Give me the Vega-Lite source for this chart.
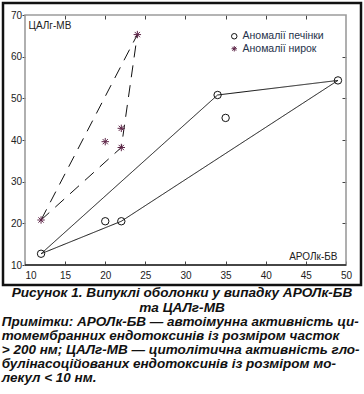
{
  "$schema": "https://vega.github.io/schema/vega-lite/v6.json",
  "background": "white",
  "padding": {"left": 1, "top": 1, "right": 2, "bottom": 2},
  "datasets": {
    "points": [
      {"x": 12, "y": 12.7, "g": "Аномалії печінки"},
      {"x": 20, "y": 20.5, "g": "Аномалії печінки"},
      {"x": 22, "y": 20.5, "g": "Аномалії печінки"},
      {"x": 34, "y": 50.8, "g": "Аномалії печінки"},
      {"x": 35, "y": 45.3, "g": "Аномалії печінки"},
      {"x": 49, "y": 54.3, "g": "Аномалії печінки"},
      {"x": 12, "y": 20.8, "g": "Аномалії нирок"},
      {"x": 20, "y": 39.6, "g": "Аномалії нирок"},
      {"x": 22, "y": 38.2, "g": "Аномалії нирок"},
      {"x": 22, "y": 42.8, "g": "Аномалії нирок"},
      {"x": 24, "y": 65.3, "g": "Аномалії нирок"}
    ],
    "hulls": [
      {"h": "печінка", "o": 1, "x": 12, "y": 12.7},
      {"h": "печінка", "o": 2, "x": 34, "y": 50.8},
      {"h": "печінка", "o": 3, "x": 49, "y": 54.3},
      {"h": "печінка", "o": 4, "x": 22, "y": 20.5},
      {"h": "печінка", "o": 5, "x": 12, "y": 12.7},
      {"h": "нирки", "o": 1, "x": 12, "y": 20.8},
      {"h": "нирки", "o": 2, "x": 24, "y": 65.3},
      {"h": "нирки", "o": 3, "x": 22, "y": 38.2},
      {"h": "нирки", "o": 4, "x": 12, "y": 20.8}
    ]
  },
  "title": {
    "text": [
      "Примітки: АРОЛк-БВ — автоімунна активність ци-",
      "томембранних ендотоксинів із розміром часток",
      "> 200 нм; ЦАЛг-МВ — цитолітична активність гло-",
      "булінасоційованих ендотоксинів із розміром мо-",
      "лекул < 10 нм."
    ],
    "orient": "bottom",
    "anchor": "start",
    "font": "Liberation Sans",
    "fontSize": 13.5,
    "fontStyle": "italic",
    "fontWeight": "bold",
    "lineHeight": 14,
    "color": "#111",
    "offset": 0
  },
  "vconcat": [
    {
      "width": 358,
      "height": 282,
      "title": {
        "text": ["Рисунок 1. Випуклі оболонки у випадку АРОЛк-БВ", "та ЦАЛг-МВ"],
        "orient": "bottom",
        "anchor": "middle",
        "font": "Liberation Sans",
        "fontSize": 13.6,
        "fontStyle": "italic",
        "fontWeight": "bold",
        "lineHeight": 14.5,
        "color": "#111",
        "offset": 1
      },
      "resolve": {"axis": {"x": "independent", "y": "independent"}},
      "layer": [
        {
          "data": {"values": [{}]},
          "mark": {"type": "rect", "fill": "white", "fillOpacity": 0, "stroke": "#9c9c9c", "strokeWidth": 1.6},
          "encoding": {
            "x": {
              "datum": 10, "type": "quantitative",
              "scale": {"domain": [7.259, 51.869], "nice": false, "zero": false},
              "axis": {
                "orient": "bottom", "offset": -20,
                "values": [10, 15, 20, 25, 30, 35, 40, 45, 50],
                "domain": false, "grid": false,
                "tickSize": -4, "tickColor": "#444", "tickWidth": 1,
                "labelPadding": 9, "labelFont": "Liberation Sans", "labelFontSize": 10, "labelColor": "#222",
                "labelAlign": {"condition": {"test": "datum.value == 10", "value": "left"}, "value": "center"},
                "labelFlush": false, "labelOverlap": false,
                "title": "АРОЛк-БВ", "titleFont": "Liberation Sans", "titleFontSize": 10, "titleFontWeight": "normal",
                "titleColor": "#222", "titleAlign": "right", "titleBaseline": "alphabetic", "titleX": 334, "titleY": -6
              }
            },
            "x2": {"datum": 50},
            "y": {
              "datum": 10, "type": "quantitative",
              "scale": {"domain": [5.2, 72.88], "nice": false, "zero": false},
              "axis": {
                "orient": "left", "offset": -22,
                "values": [10, 20, 30, 40, 50, 60, 70],
                "domain": false, "grid": false,
                "tickSize": 3, "tickColor": "#444", "tickWidth": 1,
                "labelPadding": 0.5, "labelFont": "Liberation Sans", "labelFontSize": 10, "labelColor": "#222",
                "labelFlush": false, "labelOverlap": false,
                "title": "ЦАЛг-МВ", "titleFont": "Liberation Sans", "titleFontSize": 10, "titleFontWeight": "normal",
                "titleColor": "#222", "titleAngle": 0, "titleAlign": "left", "titleBaseline": "alphabetic", "titleX": 3, "titleY": 25
              }
            },
            "y2": {"datum": 70}
          }
        },
        {
          "data": {"values": [{}]},
          "mark": {"type": "rule", "stroke": "#222", "strokeWidth": 1.6},
          "encoding": {
            "x": {
              "datum": 10, "type": "quantitative",
              "scale": {"domain": [7.259, 51.869], "nice": false, "zero": false},
              "axis": {
                "orient": "top", "offset": -12,
                "values": [15, 20, 25, 30, 35, 40, 45],
                "domain": false, "grid": false, "labels": false, "title": null,
                "tickSize": -4, "tickColor": "#444", "tickWidth": 1
              }
            },
            "x2": {"datum": 50},
            "y": {
              "datum": 10, "type": "quantitative",
              "scale": {"domain": [5.2, 72.88], "nice": false, "zero": false},
              "axis": {
                "orient": "right", "offset": -15,
                "values": [20, 30, 40, 50, 60],
                "domain": false, "grid": false, "labels": false, "title": null,
                "tickSize": -4, "tickColor": "#444", "tickWidth": 1
              }
            }
          }
        },
        {
          "data": {"name": "hulls"},
          "mark": {"type": "line", "stroke": "#111", "strokeWidth": 1},
          "encoding": {
            "x": {"field": "x", "type": "quantitative", "scale": {"domain": [7.259, 51.869], "nice": false, "zero": false}, "axis": null},
            "y": {"field": "y", "type": "quantitative", "scale": {"domain": [5.2, 72.88], "nice": false, "zero": false}, "axis": null},
            "order": {"field": "o", "type": "quantitative"},
            "strokeDash": {
              "field": "h", "type": "nominal",
              "scale": {"domain": ["печінка", "нирки"], "range": [[1, 0], [12, 8]]},
              "legend": null
            }
          }
        },
        {
          "data": {"name": "points"},
          "mark": {"type": "point", "filled": false, "strokeWidth": 1, "size": 55, "opacity": 1},
          "encoding": {
            "x": {"field": "x", "type": "quantitative", "scale": {"domain": [7.259, 51.869], "nice": false, "zero": false}, "axis": null},
            "y": {"field": "y", "type": "quantitative", "scale": {"domain": [5.2, 72.88], "nice": false, "zero": false}, "axis": null},
            "shape": {
              "field": "g", "type": "nominal",
              "scale": {
                "domain": ["Аномалії печінки", "Аномалії нирок"],
                "range": ["circle", "M0,-1L0,1M-1,0L1,0M-0.71,-0.71L0.71,0.71M-0.71,0.71L0.71,-0.71"]
              },
              "legend": {
                "title": null, "orient": "none", "legendX": 226, "legendY": 28, "padding": 0,
                "labelFont": "Liberation Sans", "labelFontSize": 10.5, "labelColor": "#26324a",
                "symbolSize": 30, "symbolStrokeWidth": 1, "labelOffset": 3, "rowPadding": 1.5
              }
            },
            "stroke": {
              "field": "g", "type": "nominal",
              "scale": {"domain": ["Аномалії печінки", "Аномалії нирок"], "range": ["#111111", "#5e2648"]},
              "legend": {
                "title": null, "orient": "none", "legendX": 226, "legendY": 28, "padding": 0,
                "labelFont": "Liberation Sans", "labelFontSize": 10.5, "labelColor": "#26324a",
                "symbolSize": 30, "symbolStrokeWidth": 1, "labelOffset": 3, "rowPadding": 1.5
              }
            }
          }
        }
      ]
    }
  ],
  "config": {
    "view": {"stroke": "#111", "strokeWidth": 2.5},
    "axis": {"minExtent": 0, "maxExtent": 200},
    "concat": {"spacing": 0}
  }
}
